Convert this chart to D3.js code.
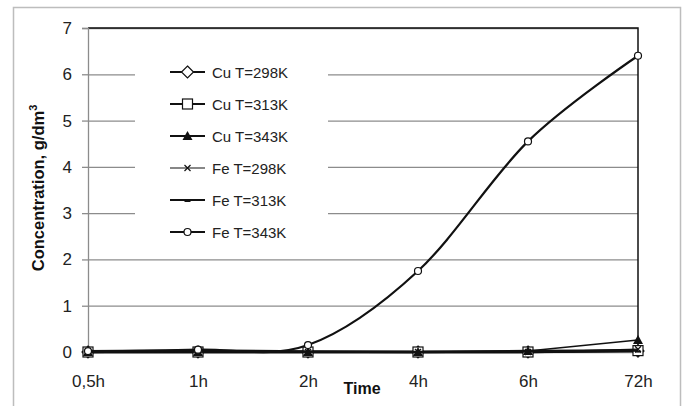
<!DOCTYPE html>
<html>
<head>
<meta charset="utf-8">
<script src="https://cdn.jsdelivr.net/npm/d3@7"></script>
<style>
  body { margin: 0; background: #fff; }
  text { font-family: "Liberation Sans", Arial, sans-serif; }
</style>
</head>
<body>
<div id="chart"></div>
<script>
// Data
const categories = ["0,5h", "1h", "2h", "4h", "6h", "72h"]
const seriesNames = ["Cu T=298K", "Cu T=313K", "Cu T=343K", "Fe T=298K", "Fe T=313K", "Fe T=343K"]
const cu298 = [0, 0, 0, 0, 0, 0.02]
const cu313 = [0, 0, 0, 0, 0, 0.03]
const cu343 = [0, 0, 0, 0, 0.02, 0.26]
const fe298 = [0, 0, 0, 0, 0, 0.06]
const fe313 = [0, 0.03, 0.01, 0, 0.02, 0.03]
const fe343 = [0.02, 0.05, 0.15, 1.75, 4.55, 6.4]
const yTicks = [0, 1, 2, 3, 4, 5, 6, 7]

const markers = ["diamond", "square", "triangle", "cross", "dash", "circle"]
const allValues = [cu298, cu313, cu343, fe298, fe313, fe343]
const series = seriesNames.map((name, i) => ({ name, values: allValues[i], marker: markers[i] }))

// Sizes
const W = 686, H = 406
const plot = { left: 88, right: 638, top: 28, bottom: 352 }

const svg = d3.select("#chart").append("svg")
  .attr("width", W)
  .attr("height", H)

// outer chart border
svg.append("rect")
  .attr("x", 13.5).attr("y", 7.5)
  .attr("width", 667).attr("height", 420)
  .attr("fill", "#fff").attr("stroke", "#bdbdbd").attr("stroke-width", 1.5)

const x = d3.scalePoint().domain(categories).range([plot.left, plot.right])
const y = d3.scaleLinear().domain([0, 7]).range([plot.bottom, plot.top])

// gridlines
svg.append("g")
  .attr("transform", `translate(${plot.left},0)`)
  .call(d3.axisLeft(y).tickValues(yTicks).tickSize(-(plot.right - plot.left)).tickFormat(""))
  .call(g => g.select(".domain").remove())
  .call(g => g.selectAll("line").attr("stroke", "#8c8c8c").attr("stroke-width", 1.3))

// plot border top/right
svg.append("path")
  .attr("d", `M${plot.left},${plot.top}H${plot.right}V${plot.bottom}`)
  .attr("fill", "none").attr("stroke", "#111").attr("stroke-width", 1.5)

// y axis
svg.append("g")
  .attr("transform", `translate(${plot.left},0)`)
  .call(d3.axisLeft(y).tickValues(yTicks).tickSize(6).tickPadding(10).tickFormat(d3.format("d")))
  .call(g => g.select(".domain").attr("stroke", "#8c8c8c").attr("stroke-width", 1.3))
  .call(g => g.selectAll("line").attr("stroke", "#8c8c8c").attr("stroke-width", 1.3))
  .call(g => g.selectAll("text").attr("font-size", 17).attr("fill", "#222")
    .attr("font-family", "Liberation Sans, Arial, sans-serif"))

// x axis
svg.append("g")
  .attr("transform", `translate(0,${plot.bottom})`)
  .call(d3.axisBottom(x).tickSize(0).tickPadding(23))
  .call(g => g.select(".domain").attr("stroke", "#8c8c8c"))
  .call(g => g.selectAll("text").attr("font-size", 17).attr("fill", "#222")
    .attr("font-family", "Liberation Sans, Arial, sans-serif"))

// axis titles
svg.append("text")
  .attr("x", 362).attr("y", 394)
  .attr("text-anchor", "middle")
  .attr("font-size", 16).attr("font-weight", "bold").attr("fill", "#111")
  .text("Time")

const ylab = svg.append("text")
  .attr("transform", "translate(44,188) rotate(-90)")
  .attr("text-anchor", "middle")
  .attr("font-size", 16.5).attr("font-weight", "bold").attr("fill", "#111")
ylab.append("tspan").text("Concentration, g/dm")
ylab.append("tspan").attr("dy", -7).attr("font-size", 11).text("3")

// marker drawing
function drawMarker(g, type, cx, cy) {
  if (type === "diamond") {
    g.append("path").attr("d", `M${cx},${cy - 6}L${cx + 6},${cy}L${cx},${cy + 6}L${cx - 6},${cy}Z`)
      .attr("fill", "#fff").attr("stroke", "#111").attr("stroke-width", 1.2)
  } else if (type === "square") {
    g.append("rect").attr("x", cx - 5).attr("y", cy - 5).attr("width", 10).attr("height", 10)
      .attr("fill", "#fff").attr("stroke", "#111").attr("stroke-width", 1.2)
  } else if (type === "triangle") {
    g.append("path").attr("d", `M${cx},${cy - 5}L${cx + 5},${cy + 4}L${cx - 5},${cy + 4}Z`)
      .attr("fill", "#111")
  } else if (type === "cross") {
    g.append("path").attr("d", `M${cx - 3},${cy - 3}L${cx + 3},${cy + 3}M${cx + 3},${cy - 3}L${cx - 3},${cy + 3}`)
      .attr("stroke", "#111").attr("stroke-width", 1.2)
  } else if (type === "dash") {
    g.append("path").attr("d", `M${cx - 3},${cy + 1}H${cx + 3}`)
      .attr("stroke", "#111").attr("stroke-width", 2)
  } else if (type === "circle") {
    g.append("circle").attr("cx", cx).attr("cy", cy).attr("r", 3.5)
      .attr("fill", "#fff").attr("stroke", "#111").attr("stroke-width", 1.2)
  }
}

const straight = d3.line().x((d, i) => x(categories[i])).y(d => y(d))
const smooth = d3.line().x((d, i) => x(categories[i])).y(d => y(d)).curve(d3.curveCardinal.tension(0))

const lineWidths = [2.5, 2.5, 1.5, 1.2, 2.5, 2.2]

series.forEach((s, si) => {
  const g = svg.append("g")
  g.append("path")
    .datum(s.values)
    .attr("d", si === 5 ? smooth : straight)
    .attr("fill", "none").attr("stroke", "#111").attr("stroke-width", lineWidths[si])
  s.values.forEach((v, i) => drawMarker(g, s.marker, x(categories[i]), y(v)))
})

// legend
const legend = svg.append("g")
legend.append("rect")
  .attr("x", 135).attr("y", 48).attr("width", 193).attr("height", 200)
  .attr("fill", "#fff")
series.forEach((s, i) => {
  const ly = 72 + i * 32
  const g = legend.append("g")
  g.append("line").attr("x1", 170).attr("x2", 205).attr("y1", ly).attr("y2", ly)
    .attr("stroke", "#111").attr("stroke-width", i === 3 ? 1.2 : 2)
  drawMarker(g, s.marker, 187.5, ly)
  g.append("text").attr("x", 212).attr("y", ly + 5.5)
    .attr("font-size", 15).attr("fill", "#222").text(s.name)
})
</script>
</body>
</html>
